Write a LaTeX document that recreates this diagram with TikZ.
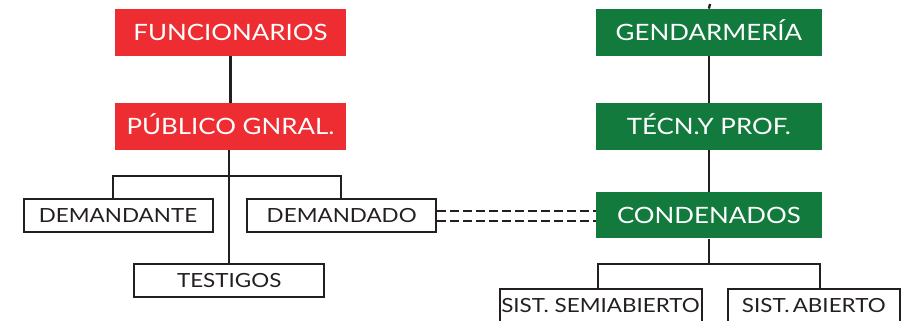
\documentclass[tikz,border=0pt]{standalone}
\usepackage{fontspec}
\setmainfont{Lato}[FakeStretch=1.15]
\definecolor{rojo}{RGB}{237,45,49}
\definecolor{verde}{RGB}{19,122,62}
\definecolor{tinta}{RGB}{35,31,32}

\begin{document}
\begin{tikzpicture}[x=1pt,y=-1pt]
	\tikzstyle{cabeza}=[inner sep=0pt,text=white,minimum width=231pt,minimum height=47pt,text height=16pt,text depth=0pt,font=\fontsize{22.5}{23}\selectfont]
	\tikzstyle{rojobox}=[cabeza,fill=rojo]
	\tikzstyle{verdebox}=[cabeza,fill=verde,minimum width=226pt]
	\tikzstyle{hoja}=[draw=tinta,line width=2pt,inner sep=0pt,text=tinta,minimum height=33pt,text height=14pt,text depth=0pt,font=\fontsize{19.5}{20}\selectfont]
	\tikzstyle{rama}=[draw=tinta,line width=2.3pt]
	\tikzstyle{enlace}=[draw=tinta,line width=2pt,dash pattern=on 9pt off 4pt]

	\useasboundingbox (0,0) rectangle (906,321);
	\clip (0,0) rectangle (906,321);

	% lado izquierdo
	\node[rojobox] (func) at (230.5,32.5) {FUNCIONARIOS};
	\node[rojobox] (pub) at (230.5,126.5) {PÚBLICO GNRAL.};
	\node[hoja,minimum width=189pt] (dte) at (118,215.8) {DEMANDANTE};
	\node[hoja,minimum width=189pt] (ddo) at (341.7,215.8) {DEMANDADO};
	\node[hoja,minimum width=190pt] (test) at (229.2,280.8) {TESTIGOS};

	\coordinate (barL) at (112.7,175.7);
	\coordinate (barR) at (340.7,175.7);

	\draw[rama] (func) -- (pub);
	\draw[rama] (pub.south -| test.north) -- (test.north);
	\draw[rama] (barL |- dte.north) -- (barL) -- (barR) -- (barR |- ddo.north);

	% lado derecho
	\node[verdebox] (gend) at (708.9,32.3) {GENDARMERÍA};
	\node[verdebox] (tec) at (708.9,126.5) {TÉCN.Y PROF.};
	\node[verdebox,minimum height=46pt] (cond) at (708.9,215.3) {CONDENADOS};
	\node[hoja,minimum width=202pt] (semi) at (600.5,305.8) {SIST. SEMIABIERTO};
	\node[hoja,minimum width=172pt] (abi) at (813.8,305.8) {SIST.\,ABIERTO};

	\coordinate (tope) at (710,4);
	\coordinate (rbarL) at (598.3,264);
	\coordinate (rbarR) at (820,264);

	\draw[rama] (tope) -- (gend.north);
	\draw[rama] (gend) -- (tec);
	\draw[rama] (tec) -- (cond);
	\draw[rama] (cond.south) -- (cond.south |- rbarL);
	\draw[rama] (rbarL |- semi.north) -- (rbarL) -- (rbarR) -- (rbarR |- abi.north);

	% union punteada
	\draw[enlace] ([yshift=5.3pt]ddo.east) -- ([yshift=5.3pt]ddo.east -| cond.west);
	\draw[enlace] ([yshift=-5.3pt]ddo.east) -- ([yshift=-5.3pt]ddo.east -| cond.west);
\end{tikzpicture}
\end{document}
